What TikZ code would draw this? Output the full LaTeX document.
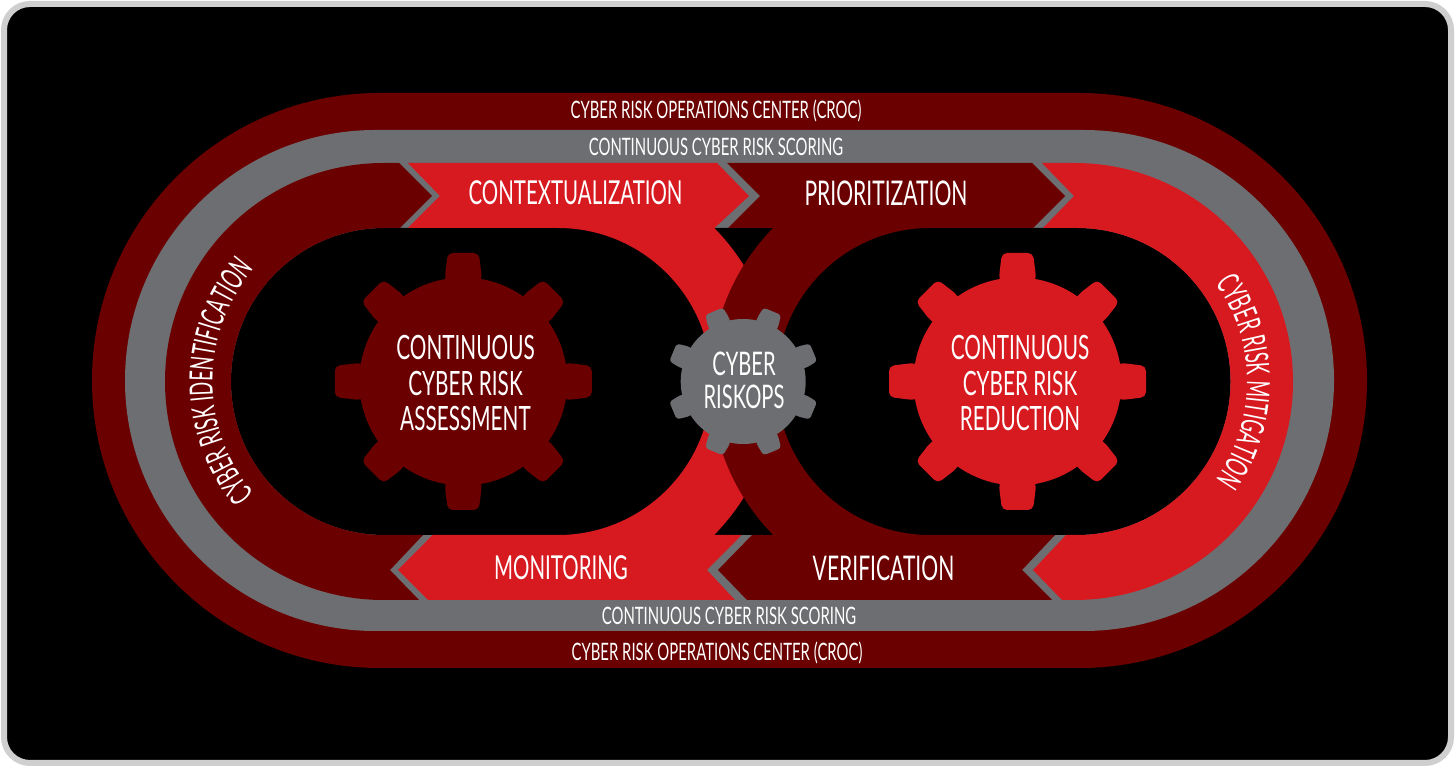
\documentclass[tikz,border=0pt]{standalone}
\usepackage{fontspec}
\usetikzlibrary{decorations.text}
\setmainfont[FakeStretch=0.62]{Lato}
\newfontfamily\curvefont[FakeStretch=0.56]{Lato}
\definecolor{cdark}{HTML}{6B0000}
\definecolor{cred}{HTML}{D71920}
\definecolor{cgrey}{HTML}{6D6E71}
\definecolor{cframe}{HTML}{CFCFCF}
\newcommand{\gearshape}[7]{% x,y,body r,tip r,angle offset,root half w,colour
  \fill[#7] (#1,#2) circle[radius=#3];
  \foreach \a in {0,45,...,315}{
    \fill[#7,rotate around={\a+#5:(#1,#2)},rounded corners=\gr]
      ({#1+#3*0.8},{#2-#6*0.75}) -- ({#1+#3+1},{#2-#6}) -- ({#1+#4},{#2-\gw}) -- ({#1+#4},{#2+\gw}) -- ({#1+#3+1},{#2+#6}) -- ({#1+#3*0.8},{#2+#6*0.75}) -- cycle;
  }}
\tikzset{
  lab/.style={text=white,align=center,inner sep=0pt},
  bandtxt/.style={lab,font=\fontsize{34}{34}\selectfont},
  bandnarrow/.style={lab,font=\fontsize{33}{33}\selectfont},
  thintxt/.style={lab,font=\fontsize{24}{24}\selectfont},
  geartxt/.style={lab,font=\fontsize{33.5}{35.5}\selectfont},
  hubtxt/.style={lab,font=\fontsize{32.5}{33}\selectfont},
}
\begin{document}
\begin{tikzpicture}[x=1pt,y=1pt]
\useasboundingbox (0,0) rectangle (1456,768);
\fill[white] (0,0) rectangle (1456,768);
\fill[black,draw=cframe,line width=6pt,rounded corners=26pt] (4,5) rectangle (1451,764);
% outer stadiums
\fill[cdark] (379.5,675) -- (1079.5,675) arc (90:-90:287.5) -- (379.5,100) arc (270:90:287.5) -- cycle;
\fill[cgrey] (375.5,638) -- (1083.5,638) arc (90:-90:250.5) -- (375.5,137) arc (270:90:250.5) -- cycle;
\fill[black] (384.5,540) -- (1077,540) arc (90:-90:153.5) -- (384.5,233) arc (270:90:153.5) -- cycle;
% bands
\fill[cdark] (399,605)--(432,572)--(400,540)--(384.5,540) arc (90:270:153.5) --(423,233)--(390,198)--(419,168)--(383.5,168) arc (270:90:218.5) --cycle;
\fill[cred] (408,605)--(717,605)--(749,572)--(714.4,539.9) arc (44.44:-44.44:219) --(741.7,233)--(707,198)--(735,168)--(428,168)--(398,198)--(432.7,233)--(558,233) arc (-90:90:153.5) --(408,540)--(440,572)--cycle;
\fill[cdark] (727,605)--(1032,605)--(1065,572)--(1033,540)--(930,540) arc (90:270:153.5) --(1055,233)--(1022,198)--(1052,168)--(747,168)--(718,198)--(752,233)--(773.1,233.1) arc (224.37:135.63:219.5) --(728,540)--(760,572)--cycle;
\fill[cred] (1042,605)--(1074.5,605) arc (90:-90:218.5) --(1062,168)--(1033,198)--(1066,233)--(1077,233) arc (-90:90:153.5) --(1043,540)--(1074,572)--cycle;
% gears
\def\gw{15.5}\def\gr{5pt}
\gearshape{463.3}{386.5}{104}{128.5}{0}{18.5}{cdark}
\gearshape{1017.5}{386.5}{104}{128.5}{0}{18.5}{cred}
\def\gw{9.5}\def\gr{3pt}
\gearshape{743.2}{386.5}{62.5}{76}{22.5}{11.5}{cgrey}
% labels
\node[thintxt] (crocT) at (716,657) {CYBER RISK OPERATIONS CENTER (CROC)};
\node[thintxt] (scoreT) at (716,621.5) {CONTINUOUS CYBER RISK SCORING};
\node[thintxt] (scoreB) at (729,152.5) {CONTINUOUS CYBER RISK SCORING};
\node[thintxt] (crocB) at (717,115.5) {CYBER RISK OPERATIONS CENTER (CROC)};
\node[bandnarrow] (ctx) at (575.5,575) {CONTEXTUALIZATION};
\node[bandtxt] (pri) at (886,575) {PRIORITIZATION};
\node[bandnarrow] (mon) at (561,200) {MONITORING};
\node[bandtxt] (ver) at (883.5,200) {VERIFICATION};
\node[geartxt] (assess) at (465.5,384.5) {CONTINUOUS\\CYBER RISK\\ASSESSMENT};
\node[geartxt] (reduce) at (1020,384.5) {CONTINUOUS\\CYBER RISK\\REDUCTION};
\node[hubtxt] (hub) at (744,387.5) {CYBER\\RISKOPS};
\path[decorate,decoration={text along path,text align=center,text color=white,text={|\curvefont\fontsize{32}{32}\selectfont|CYBER RISK IDENTIFICATION}}]
  (384.5,386.5) ++(225:172) arc (225:135:172);
\path[decorate,decoration={text along path,text align=center,text color=white,text={|\curvefont\fontsize{32}{32}\selectfont|CYBER RISK MITIGATION}}]
  (1077,386.5) ++(45:170) arc (45:-45:170);
\end{tikzpicture}
\end{document}
